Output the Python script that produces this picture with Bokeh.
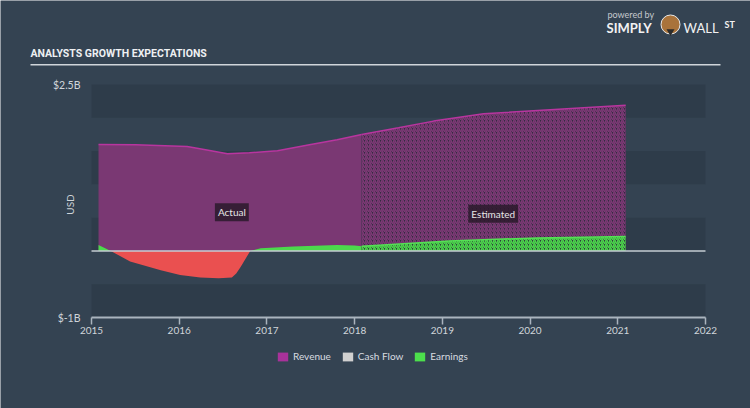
import numpy as np
from bokeh.plotting import figure
from bokeh.models import (Range1d, FixedTicker, Label, Legend, LegendItem, LinearAxis,
                          CustomJSTickFormatter, BoxAnnotation)
from bokeh.embed import file_html
from bokeh.resources import INLINE

# ---------------- data (USD billions) ----------------
years_actual = [2015.08, 2015.5, 2016.09, 2016.3, 2016.55, 2016.8, 2017.12, 2017.5, 2017.8, 2018.08]
revenue_actual = [1.60, 1.595, 1.57, 1.52, 1.46, 1.475, 1.505, 1.60, 1.67, 1.75]

years_est = [2018.08, 2018.5, 2018.9, 2019.47, 2020.23, 2021.09]
revenue_est = [1.75, 1.85, 1.95, 2.06, 2.12, 2.19]

earn_years_actual = [2015.08, 2015.22, 2015.44, 2015.79, 2016.01, 2016.24, 2016.45, 2016.6,
                     2016.65, 2016.7, 2016.81, 2016.93, 2017.3, 2017.8, 2018.0, 2018.08]
earnings_actual = [0.09, 0.0, -0.16, -0.29, -0.36, -0.40, -0.41, -0.40,
                   -0.34, -0.24, 0.0, 0.04, 0.065, 0.09, 0.08, 0.07]

earn_years_est = [2018.08, 2019.08, 2020.08, 2021.09]
earnings_est = [0.07, 0.15, 0.195, 0.215]

x_ticks = [2015, 2016, 2017, 2018, 2019, 2020, 2021, 2022]
y_ticks = [-1, 2.5]
dark_band_bottoms = [-1, 0, 1, 2]
legend_labels = ["Revenue", "Cash Flow", "Earnings"]
legend_colors = ["#a8329a", "#d0d0d0", "#4cdf4c"]

# ---------------- layout geometry (pixels) ----------------
W, H = 750, 408
FX0, FX1 = 91, 705     # pixel position of 2015 / 2022
FY0, FY1 = 84, 317     # pixel position of 2.5 / -1
XMIN, XMAX = 2015, 2022
YMIN, YMAX = -1, 2.5
ppx = (FX1 - FX0) / (XMAX - XMIN)
ppy = (FY1 - FY0) / (YMAX - YMIN)
x_range = Range1d(XMIN - FX0 / ppx, XMAX + (W - FX1) / ppx)
y_range = Range1d(YMIN - (H - FY1) / ppy, YMAX + FY0 / ppy)

def dx(px):
    return x_range.start + px / ppx

def dy(py):
    return y_range.end - py / ppy

BG = "#344352"
DARK = "#2e3c4a"
TXT = "#d0d5da"
FONT = "Lato"

p = figure(width=W, height=H, x_range=x_range, y_range=y_range,
           x_axis_type=None, y_axis_type=None, title=None, min_border=0,
           output_backend="svg", toolbar_location=None,
           background_fill_color=BG, border_fill_color=BG, outline_line_color=None)
p.outline_line_alpha = 0
p.grid.visible = False

for b in dark_band_bottoms:
    p.add_layout(BoxAnnotation(left=XMIN, right=XMAX, bottom=b, top=b + 0.5, level="underlay",
                               fill_color=DARK, fill_alpha=1, line_color=None))

# axes (drawn at fixed data locations)
yax = LinearAxis(fixed_location=XMIN, ticker=FixedTicker(ticks=y_ticks),
                 formatter=CustomJSTickFormatter(code="return '$' + tick + 'B'"),
                 axis_line_color=None, major_tick_line_color=None, major_tick_out=0,
                 major_tick_in=0, minor_tick_line_color=None,
                 major_label_text_color=TXT, major_label_text_font=FONT,
                 major_label_text_font_size="10.5px", major_label_standoff=11,
                 axis_label="USD", axis_label_standoff=-26, axis_label_text_font=FONT,
                 axis_label_text_font_style="normal", axis_label_text_font_size="10px",
                 axis_label_text_color=TXT)
p.add_layout(yax, "left")

xax = LinearAxis(fixed_location=YMIN, bounds=(XMIN, XMAX), ticker=FixedTicker(ticks=x_ticks),
                 axis_line_color="#aab4be", axis_line_width=2,
                 major_tick_line_color="#aab4be", major_tick_line_width=1.5,
                 major_tick_out=7, major_tick_in=0, minor_tick_line_color=None,
                 major_label_text_color=TXT, major_label_text_font=FONT,
                 major_label_text_font_size="10px", major_label_standoff=2)
p.add_layout(xax, "below")

# revenue
p.varea(x=years_actual, y1=0, y2=revenue_actual, fill_color="#7a3873")
p.varea(x=years_est, y1=0, y2=revenue_est, fill_color="#342b41",
        hatch_pattern="/", hatch_color="#7e3976", hatch_scale=4, hatch_weight=1.6)
p.line(years_actual, revenue_actual, line_color="#b8359f", line_width=1.5)
p.line(years_est, revenue_est, line_color="#b8359f", line_width=1.5)

# earnings
ea = np.array(earnings_actual)
p.varea(x=earn_years_actual, y1=0, y2=np.maximum(ea, 0), fill_color="#4cd94c")
p.varea(x=earn_years_actual, y1=np.minimum(ea, 0), y2=0, fill_color="#ea5050")
p.varea(x=earn_years_est, y1=0, y2=earnings_est, fill_color="#2c3d3a",
        hatch_pattern="/", hatch_color="#4cd94c", hatch_scale=4, hatch_weight=1.6)
p.line(earn_years_est, earnings_est, line_color="#55e055", line_width=1.5)

p.add_layout(BoxAnnotation(left=XMIN, right=XMAX, bottom=-0.011, top=0.011,
                           fill_color="#c5ccd3", fill_alpha=1, line_color=None))

for xx, yy, t in [(2016.6, 0.58, "Actual"), (2019.58, 0.56, "Estimated")]:
    p.add_layout(Label(x=xx, y=yy, text=t, text_align="center", text_baseline="middle",
                       text_color="#e6e6e6", text_font=FONT, text_font_size="10px",
                       background_fill_color="#2a1a2c", background_fill_alpha=0.85, padding=3))

# header: title, rule, logo
p.add_layout(Label(x=dx(30), y=dy(53), text="ANALYSTS GROWTH EXPECTATIONS", text_baseline="middle",
                   text_font="Roboto", text_font_style="bold",
                   text_font_size="10.5px", text_color="#eef0f2"))
p.add_layout(BoxAnnotation(left=dx(30), right=dx(720), top=dy(63.5), bottom=dy(65),
                           fill_color="#d0d5da", fill_alpha=1, line_color=None))
p.add_layout(Label(x=dx(607), y=dy(14), text="powered by", text_baseline="middle",
                   text_font=FONT, text_font_size="9px", text_color="#c5c9ce"))
p.add_layout(Label(x=dx(606), y=dy(27), text="SIMPLY", text_baseline="middle", text_font=FONT,
                   text_font_style="bold", text_font_size="13px", text_color="#f2f2f2"))
p.scatter(x=[dx(670)], y=[dy(24)], size=19, marker="circle", fill_color="#a9733b",
          line_color="#e8e8e8", line_width=1)
p.scatter(x=[dx(670)], y=[dy(31)], size=8, marker="triangle", angle=3.14159,
          fill_color="#2b2b2b", line_color=None)
p.add_layout(Label(x=dx(683), y=dy(27), text="WALL", text_baseline="middle", text_font=FONT,
                   text_font_size="13px", text_color="#f2f2f2"))
p.add_layout(Label(x=dx(724), y=dy(24), text="ST", text_baseline="middle", text_font=FONT,
                   text_font_style="bold", text_font_size="9px", text_color="#f2f2f2"))

# legend
dummies = [p.varea(x=[np.nan], y1=[np.nan], y2=[np.nan], fill_color=c) for c in legend_colors]
legend = Legend(items=[LegendItem(label=l, renderers=[r]) for l, r in zip(legend_labels, dummies)],
                orientation="horizontal", location=(276, H - 362),
                background_fill_alpha=0, border_line_color=None,
                glyph_width=13, glyph_height=11, label_height=11, label_standoff=4, spacing=10,
                padding=0, margin=0, label_text_font=FONT, label_text_font_size="10px",
                label_text_color="#d8dce0")
p.add_layout(legend)

open("out.html", "w").write(file_html(p, INLINE))
